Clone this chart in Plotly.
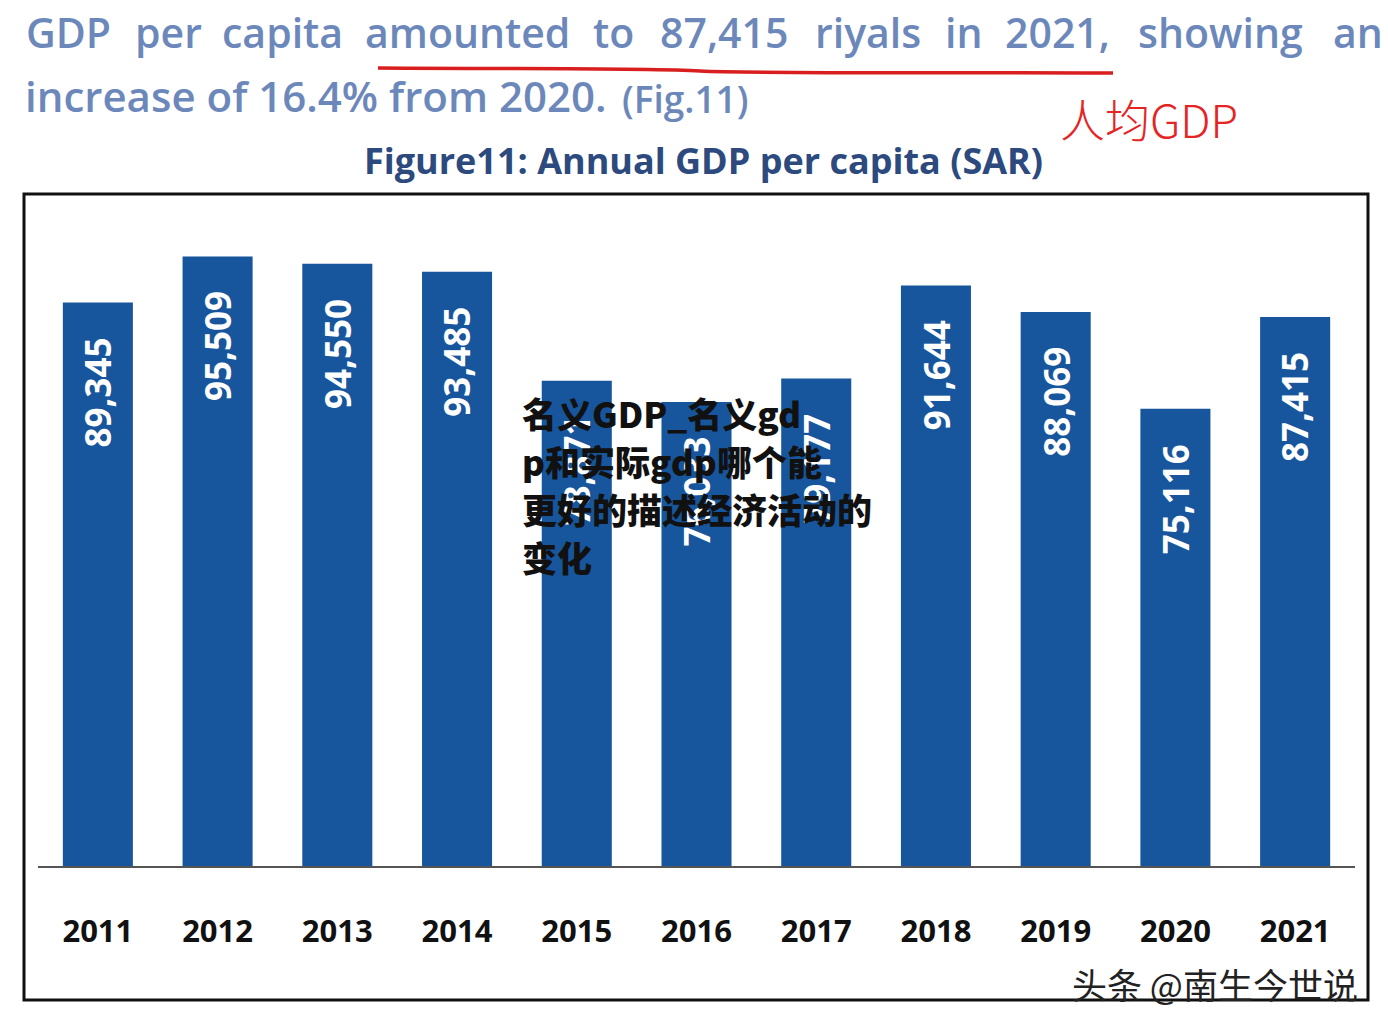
import plotly.graph_objects as go

years = ["2011", "2012", "2013", "2014", "2015", "2016", "2017", "2018", "2019", "2020", "2021"]
gdp_per_capita = [89345, 95509, 94550, 93485, 78871, 76033, 79177, 91644, 88069, 75116, 87415]
value_labels = ["89,345", "95,509", "94,550", "93,485", "78,871", "76,033", "79,177", "91,644", "88,069", "75,116", "87,415"]

headline_words = ["GDP", "per", "capita", "amounted", "to", "87,415", "riyals", "in", "2021,", "showing", "an"]
headline_word_x = [24, 133, 220, 363, 591, 658, 813, 943, 1003, 1136, 1331]
overlay_lines = ["名义GDP_名义gd", "p和实际gdp哪个能", "更好的描述经济活动的", "变化"]

W, H = 1388, 1030
L, T = 38, 200
R = W - 1355
B = H - 866
PW, PH = W - L - R, H - T - B


def px(x):
    return (x - L) / PW


def py(y):
    return (H - B - y) / PH


BAR = "#17569c"
LIGHT = "#6c88bb"

fig = go.Figure()
fig.add_trace(go.Bar(
    x=years, y=gdp_per_capita, marker=dict(color=BAR, line=dict(width=0)),
    hoverinfo="skip",
))

ann = []
for i, (v, lab) in enumerate(zip(gdp_per_capita, value_labels)):
    ann.append(dict(x=i, y=v, xref="x", yref="y", text=lab, showarrow=False,
                    textangle=-90, yanchor="top", xanchor="center", yshift=-33,
                    font=dict(family="Open Sans", size=35, color="white", weight=700)))

for w, x0 in zip(headline_words, headline_word_x):
    ann.append(dict(x=px(x0), y=py(32), xref="paper", yref="paper", text=w, showarrow=False,
                    xanchor="left", yanchor="middle",
                    font=dict(family="Open Sans", size=41, color=LIGHT, weight=600)))
ann.append(dict(x=px(23), y=py(96), xref="paper", yref="paper",
                text="increase of 16.4% from 2020.", showarrow=False, xanchor="left", yanchor="middle",
                font=dict(family="Open Sans", size=42, color=LIGHT, weight=600)))
ann.append(dict(x=px(620), y=py(98), xref="paper", yref="paper", text="(Fig.11)", showarrow=False,
                xanchor="left", yanchor="middle",
                font=dict(family="Open Sans", size=37, color=LIGHT, weight=600)))
ann.append(dict(x=px(1058), y=py(119), xref="paper", yref="paper", text="人均GDP", showarrow=False,
                xanchor="left", yanchor="middle",
                font=dict(family="Noto Sans CJK SC", size=45, color="#e52424", weight=300)))
ann.append(dict(x=px(703), y=py(161), xref="paper", yref="paper",
                text="Figure11: Annual GDP per capita (SAR)", showarrow=False,
                xanchor="center", yanchor="middle",
                font=dict(family="Open Sans", size=36, color="#2c4a7d", weight=700)))
for i, line in enumerate(overlay_lines):
    ann.append(dict(x=px(520), y=py(412 + 48 * i), xref="paper", yref="paper", text=line,
                    showarrow=False, xanchor="left", yanchor="middle",
                    font=dict(family="Noto Sans CJK SC", size=35, color="#111111", weight=900)))
ann.append(dict(x=px(1360), y=py(983), xref="paper", yref="paper", text="头条 @南生今世说",
                showarrow=False, xanchor="right", yanchor="middle",
                font=dict(family="Noto Sans CJK SC", size=35, color="#222222", weight=400)))

shapes = [
    dict(type="rect", xref="paper", yref="paper", x0=px(24), x1=px(1368), y0=py(1000), y1=py(194),
         line=dict(color="#111111", width=3), fillcolor="rgba(0,0,0,0)", layer="above"),
    dict(type="path", xref="paper", yref="paper",
         path=f"M {px(378)} {py(68)} C {px(550)} {py(69)}, {px(650)} {py(68)}, {px(700)} {py(71)} "
              f"C {px(760)} {py(74)}, {px(1000)} {py(72)}, {px(1113)} {py(73)}",
         line=dict(color="#d81e1e", width=3.5)),
]

fig.update_layout(
    width=W, height=H, margin=dict(l=L, r=R, t=T, b=B, autoexpand=False),
    paper_bgcolor="white", plot_bgcolor="white", showlegend=False,
    bargap=0.415, annotations=ann, shapes=shapes,
    xaxis=dict(type="category", range=[-0.5, len(years) - 0.5], showline=True, linecolor="#555555",
               linewidth=2, showgrid=False, ticks="",
               tickfont=dict(family="Open Sans", size=31, color="#111111", weight=700),
               ticklabelstandoff=37),
    yaxis=dict(range=[13900, 103077], visible=False, showgrid=False, zeroline=False),
)

fig.write_html("out.html", config={"displayModeBar": False},
               post_script="document.body.style.margin='0';")
